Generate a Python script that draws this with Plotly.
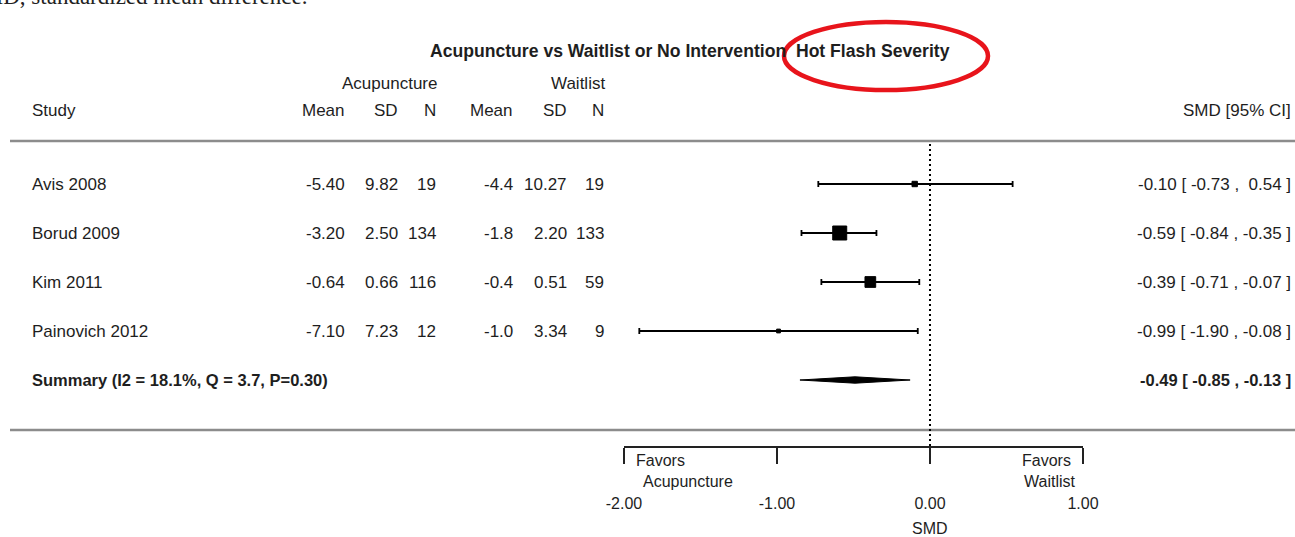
import math
import plotly.graph_objects as go

# ---------------- data ----------------
studies = ["Avis 2008", "Borud 2009", "Kim 2011", "Painovich 2012"]
acu_mean = ["-5.40", "-3.20", "-0.64", "-7.10"]
acu_sd = ["9.82", "2.50", "0.66", "7.23"]
acu_n = ["19", "134", "116", "12"]
wl_mean = ["-4.4", "-1.8", "-0.4", "-1.0"]
wl_sd = ["10.27", "2.20", "0.51", "3.34"]
wl_n = ["19", "133", "59", "9"]
smd = [-0.10, -0.59, -0.39, -0.99]
ci_lo = [-0.73, -0.84, -0.71, -1.90]
ci_hi = [0.54, -0.35, -0.07, -0.08]
summary_label = "Summary (I2 = 18.1%, Q = 3.7, P=0.30)"
summary_est = -0.49
summary_lo = -0.85
summary_hi = -0.13
tick_vals = [-2, -1, 0, 1]
tick_text = ["-2.00", "-1.00", "0.00", "1.00"]
title_text = "Acupuncture vs Waitlist or No Intervention  Hot Flash Severity"

# ---------------- layout helpers ----------------
W, H = 1295, 537
FONT = "Liberation Sans, Arial, Helvetica, sans-serif"
TXT = "#1e1e1e"
FS = 17

def px(x):
    return x / W

def py(y):
    return 1 - y / H

rows = list(range(1, len(studies) + 1))
summary_row = len(studies) + 1
row0_px, row_step = 184, 49
axis_px = 446
y_top_val = 1 - row0_px / row_step
y_bot_val = 1 + (axis_px - row0_px) / row_step

fig = go.Figure()

# CI lines with caps + weighted squares
weights = [1 / ((h - l) / 3.92) ** 2 for l, h in zip(ci_lo, ci_hi)]
sizes = [1.75 * math.sqrt(w) for w in weights]
fig.add_trace(go.Scatter(
    x=smd, y=rows, mode="markers",
    marker=dict(symbol="square", size=sizes, color="black", opacity=1,
                line=dict(width=1, color="black")),
    error_x=dict(type="data", symmetric=False,
                 array=[h - e for e, h in zip(smd, ci_hi)],
                 arrayminus=[e - l for e, l in zip(smd, ci_lo)],
                 color="black", thickness=1.8, width=3),
    showlegend=False, hoverinfo="skip", cliponaxis=False,
))

# summary diamond
dh = 3.2 / row_step
fig.add_trace(go.Scatter(
    x=[summary_lo, summary_est, summary_hi, summary_est, summary_lo],
    y=[summary_row, summary_row - dh, summary_row, summary_row + dh, summary_row],
    mode="lines", fill="toself", fillcolor="black",
    line=dict(color="black", width=1),
    showlegend=False, hoverinfo="skip",
))

ann = []

def add(text, x, y, xanchor="left", yref="paper", size=FS, bold=False, color=TXT,
        family=FONT, yanchor="middle"):
    ann.append(dict(
        text=f"<b>{text}</b>" if bold else text,
        x=x, y=y, xref="paper", yref=yref, xanchor=xanchor, yanchor=yanchor,
        showarrow=False, font=dict(family=family, size=size, color=color),
    ))

# cropped caption at very top
add("SMD, standardized mean difference.", px(-32), py(11), size=23, color="#222",
    family="Liberation Serif, Times New Roman, serif", yanchor="bottom")

# title
add(title_text, px(428), py(51), bold=True, size=17.6)

# header
add("Acupuncture", px(439), py(83), xanchor="right")
add("Waitlist", px(607), py(83), xanchor="right")
add("Study", px(30), py(110))
for t, xr in [("Mean", 347), ("SD", 400), ("N", 438), ("Mean", 515), ("SD", 569), ("N", 606)]:
    add(t, px(xr), py(110), xanchor="right")
add("SMD [95% CI]", px(1293), py(110), xanchor="right")

# rows
for i, r in enumerate(rows):
    ann.append(dict(text=studies[i], x=px(30), y=r, xref="paper", yref="y",
                    xanchor="left", yanchor="middle", showarrow=False,
                    font=dict(family=FONT, size=FS, color=TXT)))
    for col, xr in [(acu_mean, 347), (acu_sd, 400), (acu_n, 438),
                    (wl_mean, 515), (wl_sd, 569), (wl_n, 606)]:
        ann.append(dict(text=col[i], x=px(xr), y=r, xref="paper", yref="y",
                        xanchor="right", yanchor="middle", showarrow=False,
                        font=dict(family=FONT, size=FS, color=TXT)))
    ci_txt = f"{smd[i]:.2f} [ {ci_lo[i]:.2f} , {ci_hi[i]:5.2f} ]".replace("  ", " &nbsp;")
    ann.append(dict(text=ci_txt, x=px(1293), y=r, xref="paper", yref="y",
                    xanchor="right", yanchor="middle", showarrow=False,
                    font=dict(family=FONT, size=FS, color=TXT)))

ann.append(dict(text=f"<b>{summary_label}</b>", x=px(30), y=summary_row, xref="paper", yref="y",
                xanchor="left", yanchor="middle", showarrow=False,
                font=dict(family=FONT, size=FS - 0.5, color=TXT)))
ann.append(dict(text=f"<b>{summary_est:.2f} [ {summary_lo:.2f} , {summary_hi:.2f} ]</b>",
                x=px(1293), y=summary_row, xref="paper", yref="y",
                xanchor="right", yanchor="middle", showarrow=False,
                font=dict(family=FONT, size=FS - 0.5, color=TXT)))

# favors labels
add("Favors", px(634), py(460), size=16)
add("Acupuncture", px(641), py(481), size=16)
add("Favors", px(1073), py(460), xanchor="right", size=16)
add("Waitlist", px(1078), py(481), xanchor="right", size=16)

# axis title
ann.append(dict(text="SMD", x=0, y=py(528), xref="x", yref="paper", xanchor="center",
                yanchor="middle", showarrow=False, font=dict(family=FONT, size=16, color=TXT)))

shapes = [
    dict(type="line", xref="paper", yref="paper", x0=px(10), x1=1, y0=py(141), y1=py(141),
         line=dict(color="#8c8c8c", width=2.5)),
    dict(type="line", xref="paper", yref="paper", x0=px(10), x1=1, y0=py(430), y1=py(430),
         line=dict(color="#8c8c8c", width=2.5)),
    dict(type="line", xref="x", yref="paper", x0=0, x1=0, y0=py(axis_px), y1=py(141),
         line=dict(color="black", width=2, dash="2px,3px")),
    dict(type="circle", xref="paper", yref="paper", x0=px(784), x1=px(988), y0=py(90), y1=py(22),
         line=dict(color="#e8141b", width=4.5)),
]

fig.update_layout(
    width=W, height=H,
    margin=dict(l=0, r=0, t=0, b=0),
    paper_bgcolor="white", plot_bgcolor="white",
    annotations=ann, shapes=shapes,
    xaxis=dict(domain=[px(624), px(1083)], range=[-2, 1],
               showgrid=False, zeroline=False, showline=True, linecolor="#222", linewidth=1.5,
               ticks="outside", ticklen=16, tickwidth=1.5, tickcolor="#222",
               tickvals=tick_vals, ticktext=tick_text, ticklabelstandoff=26,
               tickfont=dict(family=FONT, size=16, color=TXT), automargin=False),
    yaxis=dict(domain=[1 - axis_px / H, 1], range=[y_bot_val, y_top_val],
               visible=False, automargin=False),
    font=dict(family=FONT),
)

fig.write_html(
    "out.html",
    config={"displayModeBar": False},
    post_script="document.body.style.margin='0';document.body.style.overflow='hidden';",
)
